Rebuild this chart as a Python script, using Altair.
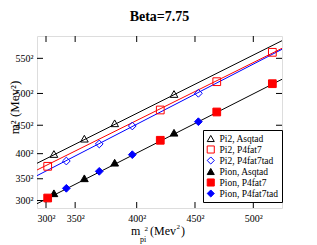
import altair as alt
import pandas as pd

# ---------------- data ----------------
series_names = ["Pi2, Asqtad", "Pi2, P4fat7", "Pi2, P4fat7tad",
                "Pion, Asqtad", "Pion, P4fat7", "Pion, P4fat7tad"]

# m_pi^2 (MeV^2) for each ensemble / action
mpi2_asqtad = [96100, 119600, 143000, 188800]
mpi2_p4fat7 = [91300, 178200, 221800, 264700]
mpi2_p4fat7tad = [105700, 131100, 156600, 207600]

# m^2 (MeV^2)
m2_pi2_asqtad = [159500, 182400, 205400, 249200]
m2_pi2_p4fat7 = [141100, 225300, 267600, 311500]
m2_pi2_p4fat7tad = [149000, 174500, 201400, 250200]
m2_pion_asqtad = [100800, 123200, 146500, 191300]
m2_pion_p4fat7 = [93700, 180000, 222300, 264600]
m2_pion_p4fat7tad = [108200, 133600, 158500, 207800]

# linear fits, evaluated at the ends of the x range
fit_names = ["Pi2 Asqtad fit", "Pi2 P4fat7 fit", "Pi2 P4fat7tad fit", "Pion fit"]
fit_x = [83050, 272150]
fit_pi2_asqtad = [145600, 328900]
fit_pi2_p4fat7 = [135600, 317500]
fit_pi2_p4fat7tad = [127100, 316000]
fit_pion = [85200, 271200]

x_domain = [83050, 272150]
y_domain = [78790, 335890]
x_tick_values = [90000, 112500, 160000, 205000, 250000]
x_tick_labels = ["300²", "350²", "400²", "450²", "500²"]
y_tick_values = [90000, 122500, 160000, 202500, 250000, 302500]
y_tick_labels = ["300²", "350²", "400²", "450²", "500²", "550²"]

# ---------------- tables ----------------
xs = [mpi2_asqtad, mpi2_p4fat7, mpi2_p4fat7tad] * 2
ys = [m2_pi2_asqtad, m2_pi2_p4fat7, m2_pi2_p4fat7tad,
      m2_pion_asqtad, m2_pion_p4fat7, m2_pion_p4fat7tad]
rows = []
for name, xv, yv in zip(series_names, xs, ys):
    for a, b in zip(xv, yv):
        rows.append({"series": name, "x": a, "y": b})
pts = pd.DataFrame(rows)

frows = []
for name, yv in zip(fit_names, [fit_pi2_asqtad, fit_pi2_p4fat7, fit_pi2_p4fat7tad, fit_pion]):
    for a, b in zip(fit_x, yv):
        frows.append({"fit": name, "x": a, "y": b})
fits = pd.DataFrame(frows)

SERIF = "Liberation Serif"
W, H = 245, 172

x_scale = alt.Scale(domain=x_domain, nice=False, zero=False)
y_scale = alt.Scale(domain=y_domain, nice=False, zero=False)


def label_expr(values, labels):
    expr = "''"
    for v, l in reversed(list(zip(values, labels))):
        expr = f"datum.value == {v} ? '{l}' : {expr}"
    return expr


x_axis = alt.Axis(values=x_tick_values, labelExpr=label_expr(x_tick_values, x_tick_labels),
                  ticks=False, domain=False, grid=False, title=None,
                  labelFont=SERIF, labelFontSize=10, labelColor="black",
                  labelPadding=5, labelFlush=False)
y_axis = alt.Axis(values=y_tick_values, labelExpr=label_expr(y_tick_values, y_tick_labels),
                  ticks=False, domain=False, grid=False, title="m² (Mev²)",
                  labelFont=SERIF, labelFontSize=10, labelColor="black",
                  labelPadding=4, labelFlush=False,
                  titleFont=SERIF, titleFontSize=13, titleFontWeight="normal",
                  titleColor="black", titlePadding=-6, titleY=71)

lines = alt.Chart(fits).mark_line(strokeWidth=1).encode(
    x=alt.X("x:Q", scale=x_scale, axis=x_axis),
    y=alt.Y("y:Q", scale=y_scale, axis=y_axis),
    color=alt.Color("fit:N", scale=alt.Scale(domain=fit_names,
                                             range=["black", "red", "blue", "black"]),
                    legend=None),
    detail="fit:N",
)

points = alt.Chart(pts).mark_point(strokeWidth=1, opacity=1, fillOpacity=1, size=60).encode(
    x=alt.X("x:Q", scale=x_scale, axis=x_axis),
    y=alt.Y("y:Q", scale=y_scale, axis=y_axis),
    stroke=alt.Stroke("series:N", scale=alt.Scale(domain=series_names,
                                                  range=["black", "red", "blue", "black", "red", "blue"]),
                      legend=alt.Legend(orient="none", legendX=166, legendY=94, title=None,
                                        strokeColor="black", fillColor="white", padding=3,
                                        symbolSize=50, clipHeight=11, rowPadding=0,
                                        labelFont=SERIF, labelFontSize=9.5, labelColor="black",
                                        labelOffset=4, symbolStrokeWidth=1, cornerRadius=0)),
    fill=alt.Fill("series:N", scale=alt.Scale(domain=series_names,
                                              range=["transparent", "transparent", "transparent",
                                                     "black", "red", "blue"])),
    shape=alt.Shape("series:N", scale=alt.Scale(domain=series_names,
                                                range=["triangle-up", "square", "diamond",
                                                       "triangle-up", "square", "diamond"])),
)

xt = pd.DataFrame({"v": x_tick_values})
yt = pd.DataFrame({"v": y_tick_values})
tick_len = 6
x_bottom = alt.Chart(xt).mark_rule(color="black", strokeWidth=1).encode(
    x=alt.X("v:Q", scale=x_scale, axis=x_axis), y=alt.value(H), y2=alt.value(H - tick_len))
x_top = alt.Chart(xt).mark_rule(color="black", strokeWidth=1).encode(
    x=alt.X("v:Q", scale=x_scale, axis=x_axis), y=alt.value(0), y2=alt.value(tick_len))
y_left = alt.Chart(yt).mark_rule(color="black", strokeWidth=1).encode(
    y=alt.Y("v:Q", scale=y_scale, axis=y_axis), x=alt.value(0), x2=alt.value(tick_len))
y_right = alt.Chart(yt).mark_rule(color="black", strokeWidth=1).encode(
    y=alt.Y("v:Q", scale=y_scale, axis=y_axis), x=alt.value(W), x2=alt.value(W - tick_len))


def txt(s, x, y, size):
    return alt.Chart(pd.DataFrame({"t": [s]})).mark_text(
        align="left", baseline="alphabetic", font=SERIF, fontSize=size, color="black"
    ).encode(text="t:N", x=alt.value(x), y=alt.value(y))


xtitle = [
    txt("m", 94, 199, 12),
    txt("pi", 103, 206, 8),
    txt("2", 107.5, 195, 7),
    txt("(Mev", 113, 199, 12),
    txt("2", 139.5, 193, 7),
    txt(")", 144, 199, 12),
]

chart = alt.layer(lines, points, x_bottom, x_top, y_left, y_right, *xtitle).properties(
    width=W, height=H,
    title=alt.TitleParams("Beta=7.75", font=SERIF, fontSize=14, fontWeight="bold",
                          anchor="middle", color="black", offset=12),
    autosize=alt.AutoSizeParams(type="none"),
    padding={"left": 29, "top": 28, "right": 27, "bottom": 37},
).configure_view(stroke="black", strokeWidth=1).configure(background="white")

chart.save("out.html", embed_options={"renderer": "svg", "actions": False})
